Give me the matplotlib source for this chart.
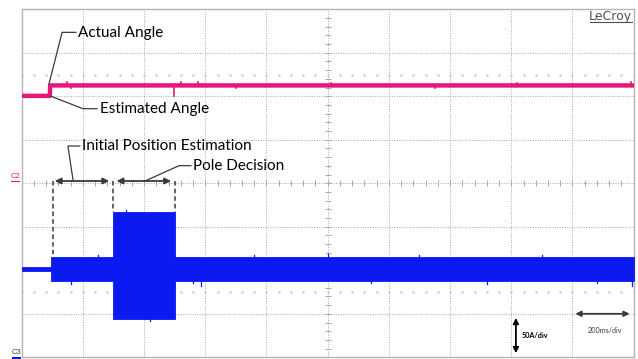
import numpy as np
import matplotlib.pyplot as plt
from matplotlib.patches import FancyArrowPatch

# scope settings: 10 x 200 ms horizontal, 8 vertical divisions
time_per_div = 200          # ms/div
amp_per_div = 50            # A/div
n_xdiv, n_ydiv = 10, 8

# C2: rotor angle traces (in divisions on screen)
est_t = [0, 92, 93, 2000]
est_angle = [2.01, 2.01, 2.25, 2.25]
act_t = [0, 86, 92, 2000]
act_angle = [2.01, 2.01, 2.25, 2.25]
# a few visible glitches on the estimated angle (ms, div offset)
glitch_t = [148, 160, 498, 520, 576, 700, 1010, 1350, 1620, 1990]
glitch_dy = [0.08, -0.06, -0.24, 0.08, 0.07, -0.05, 0.06, -0.05, 0.05, 0.08]

# C3: phase current envelope (A), shown with a -1.97 div offset
c3_offset = -1.97
phase_t = [0, 96, 298, 500, 2000]
phase_names = ['', 'Initial Position Estimation', 'Pole Decision', '']
cur_upper = [2, 13.5, 65, 13.5]
cur_lower = [-2, -13.5, -57, -13.5]
# visible spikes on the current envelope (ms, A)
spike_t = [160, 250, 340, 420, 560, 585, 760, 1000, 1140, 1300, 1520, 1700, 1880, 1995]
spike_i = [-17, 16, 68, -60, -16, -19, 16, 17, -16, 16, -17, 16, -16, -19]

pink = '#e8157a'
blue = '#0a1af0'
dark = '#3a3a3a'
grid_col = '#a8a8a8'
font = 'Lato'

fig = plt.figure(figsize=(6.38, 3.59), dpi=100)
ax = fig.add_axes([21.7 / 638, 1 - 357.3 / 359, 612 / 638, 348 / 359])
xmax = n_xdiv * time_per_div
ax.set_xlim(0, xmax)
ax.set_ylim(-n_ydiv / 2, n_ydiv / 2)
ax.set_xticks([])
ax.set_yticks([])
for s in ax.spines.values():
    s.set_color('#b4b4b4')
    s.set_linewidth(1.0)

# graticule
for i in range(1, n_xdiv):
    ax.axvline(i * time_per_div, color=grid_col, lw=0.7, ls=(0, (1, 1.5)), zorder=1)
for j in range(-n_ydiv // 2 + 1, n_ydiv // 2):
    ax.axhline(j, color=grid_col, lw=0.7, ls=(0, (1, 1.5)), zorder=1)
# minor ticks on centre cross
xt = np.arange(0, xmax + 1, time_per_div / 5)
ax.plot(xt, np.zeros_like(xt), ls='none', marker='|', ms=4, color=grid_col, mew=0.7, zorder=1)
yt = np.arange(-n_ydiv / 2, n_ydiv / 2 + 0.01, 0.2)
ax.plot(np.full_like(yt, xmax / 2), yt, ls='none', marker='_', ms=4, color=grid_col, mew=0.7, zorder=1)
for yy in (2.5, -2.5):
    ax.plot(xt, np.full_like(xt, yy), ls='none', marker='.', ms=1.3, color='#c4c4c4', zorder=1)

# C3 current band
for k in range(len(phase_t) - 1):
    seg = [phase_t[k], phase_t[k + 1]]
    up = c3_offset + cur_upper[k] / amp_per_div
    lo = c3_offset + cur_lower[k] / amp_per_div
    ax.fill_between(seg, [lo, lo], [up, up], color=blue, lw=0.6, edgecolor=blue, zorder=3)
for st, si in zip(spike_t, spike_i):
    ax.plot([st, st], [c3_offset, c3_offset + si / amp_per_div], color=blue, lw=0.9, zorder=3)

# C2 angle traces
ax.plot(act_t, act_angle, color='#f0b020', lw=1.0, zorder=3)
ax.plot(est_t, est_angle, color=pink, lw=3.2, zorder=4)
for gt, gd in zip(glitch_t, glitch_dy):
    ax.plot([gt, gt], [2.25, 2.25 + gd], color=pink, lw=1.2, zorder=4)

txt = dict(fontsize=11, family=font, color='black', va='center', ha='left')
lk = dict(color=dark, lw=0.9, zorder=5)

# Actual / Estimated angle labels
ax.plot([89, 132, 177], [2.28, 3.47, 3.47], **lk)
ax.text(184, 3.455, 'Actual Angle', **txt)
ax.plot([96, 200, 246], [2.0, 1.715, 1.715], **lk)
ax.text(256, 1.71, 'Estimated Angle', **txt)

# phase arrows and dashed markers
ya = 0.053
for k in (1, 2):
    ax.add_patch(FancyArrowPatch((phase_t[k] + 3, ya), (phase_t[k + 1] - 3, ya),
                                 arrowstyle='<|-|>', mutation_scale=9, color=dark, lw=1.3, zorder=6))
ax.plot([phase_t[1] + 5] * 2, [ya, c3_offset + cur_upper[1] / amp_per_div], color=dark, lw=1.1, ls=(0, (3, 2)), zorder=5)
for k in (2, 3):
    ax.plot([phase_t[k] + 2] * 2, [ya, c3_offset + cur_upper[2] / amp_per_div], color=dark, lw=1.1, ls=(0, (3, 2)), zorder=5)
ax.plot([168, 151, 190], [0.064, 0.857, 0.857], **lk)
ax.text(197, 0.857, phase_names[1], **txt)
ax.plot([403, 514, 553], [0.053, 0.405, 0.405], **lk)
ax.text(560, 0.405, phase_names[2], **txt)

# scale markers
ax.add_patch(FancyArrowPatch((1615, -3.03), (1615, -3.97), arrowstyle='<|-|>', mutation_scale=8,
                             color='black', lw=1.3, zorder=6, clip_on=False))
ax.text(1635, -3.49, f'{amp_per_div}A/div', fontsize=5.2, family=font, weight='bold', va='center')
ax.add_patch(FancyArrowPatch((1800, -3.0), (1996, -3.0), arrowstyle='<|-|>', mutation_scale=8,
                             color=dark, lw=1.3, zorder=6))
ax.text(1906, -3.39, f'{time_per_div}ms/div', fontsize=5.2, family=font, color=dark, ha='center', va='center')

# scope branding and channel markers
ax.text(1994, 3.84, 'LeCroy', fontsize=9, family='DejaVu Sans', color='#505050', ha='right', va='center')
ax.plot([1857, 1994], [3.70, 3.70], color='#505050', lw=0.8)
fig.text(11 / 638, 1 - 176.5 / 359, 'C2', fontsize=5.5, family='Liberation Sans',
         color=pink, ha='left', va='center', rotation=0)
fig.add_artist(plt.Line2D([11 / 638, 19 / 638], [1 - 181 / 359] * 2, color=pink, lw=0.8))
fig.text(12 / 638, 1 - 352 / 359, 'C3', fontsize=5.5, family='Liberation Sans',
         color='#444444', ha='left', va='center', rotation=0)
fig.add_artist(plt.Line2D([13 / 638, 20 / 638], [1 - 358 / 359] * 2, color=blue, lw=1.5))

fig.savefig('out.png', dpi=100)
